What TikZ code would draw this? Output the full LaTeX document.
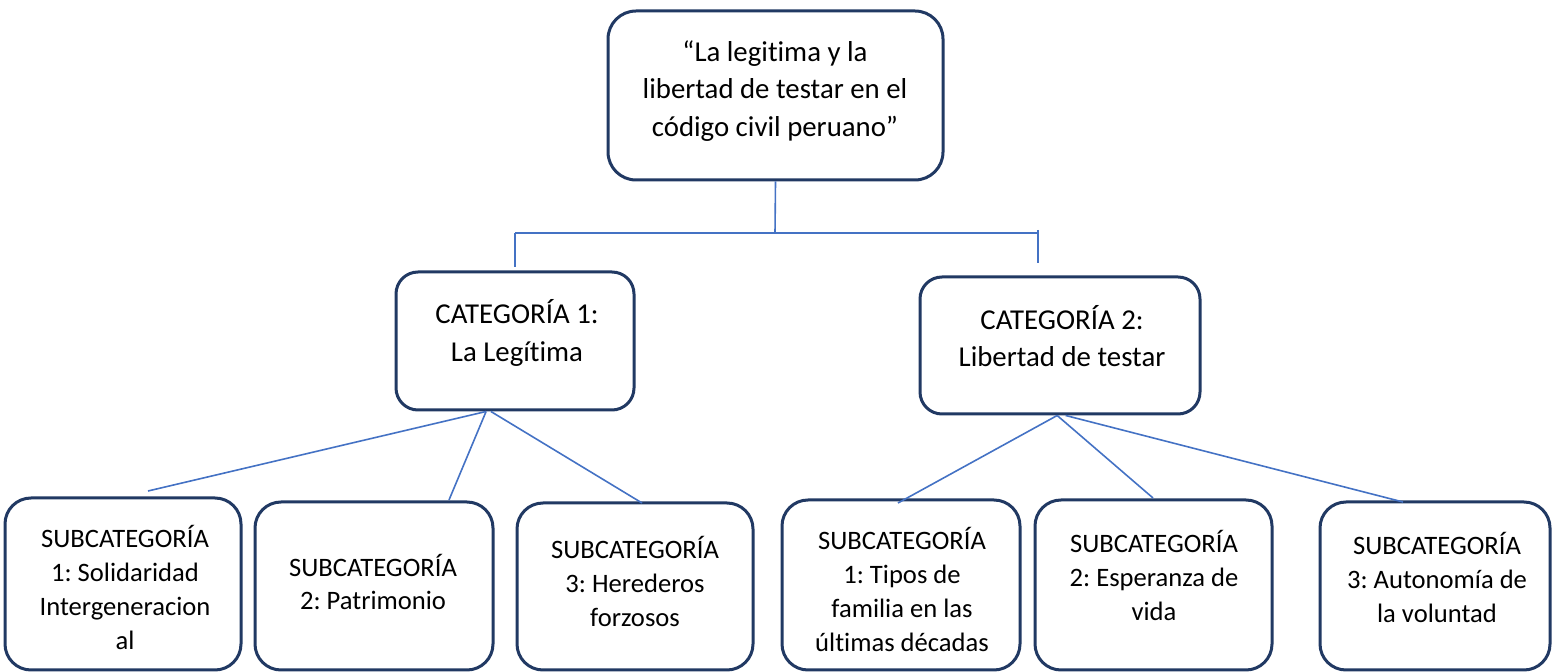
\documentclass[tikz,border=0pt]{standalone}
\usepackage{fontspec}
\setmainfont{Carlito}[Ligatures={NoCommon}]
\usetikzlibrary{calc}
\definecolor{boxline}{RGB}{33,57,99}
\definecolor{connc}{RGB}{68,114,196}
\frenchspacing
\begin{document}
\begin{tikzpicture}[x=0.5pt,y=-0.5pt,
  box/.style={draw=boxline, line width=1.5pt, rounded corners=13pt, inner sep=0pt, fill=white},
  big/.style={font=\fontsize{14.4pt}{18.7pt}\selectfont, align=center, inner sep=0pt},
  small/.style={font=\fontsize{13.3pt}{17pt}\selectfont, align=center, inner sep=0pt},
  conn/.style={draw=connc, line width=0.8pt}]
\useasboundingbox (0,0) rectangle (1552,672);

% boxes
\node[box, rounded corners=14pt, minimum width=167.5pt, minimum height=84.5pt] (top) at (775.5,95.5) {};
\node[box, rounded corners=11pt, minimum width=119pt, minimum height=69pt] (c1) at (515,341) {};
\node[box, rounded corners=11pt, minimum width=140pt, minimum height=68.5pt] (c2) at (1060,345.5) {};
\node[box, minimum width=118pt, minimum height=86pt] (s1) at (123,584) {};
\node[box, minimum width=119pt, minimum height=84pt] (s2) at (374,586) {};
\node[box, minimum width=118pt, minimum height=83.5pt] (s3) at (635,586.5) {};
\node[box, minimum width=119pt, minimum height=85pt] (s4) at (901,585) {};
\node[box, minimum width=118.5pt, minimum height=85pt] (s5) at (1153.5,585) {};
\node[box, minimum width=115pt, minimum height=84pt] (s6) at (1435,586) {};

% texts
\node[big] (ttop) at (775,91) {“La legitima y la\\libertad de testar en el\\código civil peruano”};
\node[big] (tc1) at (517,333) {CATEGORÍA 1:\\La Legítima};
\node[big] (tc2) at (1062,336) {CATEGORÍA 2:\\Libertad de testar};
\node[small] (ts1) at (125,587) {SUBCATEGORÍA\\1: Solidaridad\\Intergeneracion\\al};
\node[small] (ts2) at (373,582) {SUBCATEGORÍA\\2: Patrimonio};
\node[small] (ts3) at (635,581) {SUBCATEGORÍA\\3: Herederos\\forzosos};
\node[small] (ts4) at (902,589) {SUBCATEGORÍA\\1: Tipos de\\familia en las\\últimas décadas};
\node[small] (ts5) at (1154,575) {SUBCATEGORÍA\\2: Esperanza de\\vida};
\node[small] (ts6) at (1437,577) {SUBCATEGORÍA\\3: Autonomía de\\la voluntad};

% connector coordinates
\coordinate (hm) at (775,233);
\coordinate (hl) at (515,233);
\coordinate (hr) at (1038,233);
\coordinate (hrt) at (1038,230);
\coordinate (d1) at (515,267);
\coordinate (d2) at (1038,263);
\coordinate (e1) at (148,491);
\coordinate (e2) at (449,500);
\coordinate (e3) at (642,503);
\coordinate (f1) at (898,503);
\coordinate (f2) at (1153,498);
\coordinate (f3) at (1403,502);

% connectors
\draw[conn] (top.south) -- (hm);
\draw[conn] (hl) -- (hr);
\draw[conn] (hl) -- (d1);
\draw[conn] (hrt) -- (d2);
\draw[conn] ($(c1.south west)!0.38!(c1.south east)$) -- (e1);
\draw[conn] ($(c1.south west)!0.38!(c1.south east)$) -- (e2);
\draw[conn] ($(c1.south west)!0.40!(c1.south east)$) -- (e3);
\draw[conn] ($(c2.south west)!0.49!(c2.south east)$) -- (f1);
\draw[conn] ($(c2.south west)!0.49!(c2.south east)$) -- (f2);
\draw[conn] ($(c2.south west)!0.52!(c2.south east)$) -- (f3);
\end{tikzpicture}
\end{document}
